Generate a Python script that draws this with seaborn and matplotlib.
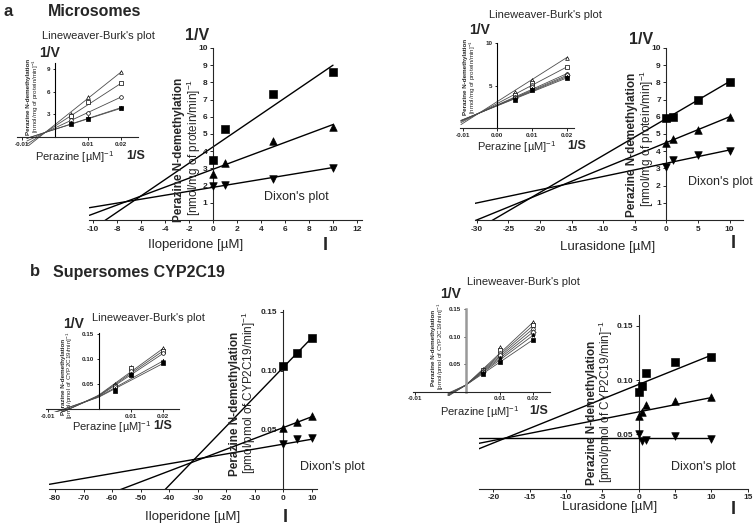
import numpy as np
import pandas as pd
import matplotlib
matplotlib.use("Agg")
import matplotlib.pyplot as plt
import seaborn as sns

sns.set_style("ticks")
plt.rcParams['font.family'] = ['Liberation Sans', 'DejaVu Sans']
plt.rcParams['mathtext.default'] = 'regular'

W, H = 754, 525

# ---- Dixon plots (1/V vs inhibitor) ----
ilo_mic_x = [0, 1, 5, 10]
ilo_mic_sq = [3.5, 5.3, 7.3, 8.6]
ilo_mic_up = [2.7, 3.3, 4.6, 5.4]
ilo_mic_dn = [1.95, 2.05, 2.4, 3.0]
ilo_mic_int = [4.25, 2.95, 1.9]
ilo_mic_slope = [0.475, 0.26, 0.115]

lur_mic_x = [0, 1, 5, 10]
lur_mic_sq = [5.95, 6.0, 7.0, 8.05]
lur_mic_up = [4.45, 4.7, 5.25, 6.0]
lur_mic_dn = [3.1, 3.5, 3.8, 4.0]
lur_mic_int = [5.9, 4.5, 3.3]
lur_mic_slope = [0.215, 0.15, 0.077]

ilo_sup_x = [0, 5, 10]
ilo_sup_sq = [0.104, 0.115, 0.128]
ilo_sup_up = [0.052, 0.057, 0.062]
ilo_sup_dn = [0.038, 0.042, 0.043]
ilo_sup_int = [0.103, 0.052, 0.038]
ilo_sup_slope = [0.0025, 0.00092, 0.000415]

lur_sup_x = [0, 0.5, 1, 5, 10]
lur_sup_sq = [0.089, 0.095, 0.107, 0.117, 0.121]
lur_sup_up = [0.067, 0.071, 0.077, 0.081, 0.084]
lur_sup_dn = [0.050, 0.044, 0.045, 0.048, 0.046]
lur_sup_int = [0.096, 0.0707, 0.0465]
lur_sup_slope = [0.0027, 0.00132, 0.0]

# ---- Lineweaver-Burk insets (1/V vs 1/S) ----
lb_x = [0.005, 0.01, 0.02]

lb_a1_vals = [[3.1, 5.3, 8.6], [2.8, 4.7, 7.1], [2.25, 3.2, 5.3],
              [1.9, 2.5, 3.9], [1.7, 2.45, 3.8]]
lb_a1_int = [1.64, 1.45, 1.21, 1.03, 1.02]
lb_a1_slope = [348, 283, 204, 143, 139]

lb_a2_vals = [[4.2, 5.7, 8.3], [3.9, 5.3, 7.2], [3.6, 5.1, 6.4],
              [3.5, 4.8, 6.2], [3.4, 4.6, 6.05], [3.3, 4.5, 5.9]]
lb_a2_int = [3.12, 2.89, 2.72, 2.68, 2.65, 2.62]
lb_a2_slope = [259, 215, 184, 176, 170, 164]

lb_b1_vals = [[0.050, 0.085, 0.122], [0.047, 0.082, 0.117], [0.044, 0.077, 0.112],
              [0.040, 0.070, 0.097], [0.037, 0.068, 0.092]]
lb_b1_int = [0.028, 0.027, 0.026, 0.025, 0.024]
lb_b1_slope = [4.7, 4.5, 4.3, 3.6, 3.4]

lb_b2_vals = [[0.041, 0.082, 0.127], [0.039, 0.076, 0.121], [0.038, 0.071, 0.115],
              [0.036, 0.067, 0.109], [0.035, 0.061, 0.103], [0.033, 0.055, 0.095]]
lb_b2_int = [0.012, 0.012, 0.012, 0.012, 0.012, 0.012]
lb_b2_slope = [5.75, 5.45, 5.15, 4.85, 4.55, 4.15]

fig = plt.figure(figsize=(W / 100, H / 100), dpi=100)


def rect(l, r, top, bottom):
    return [l / W, 1 - bottom / H, (r - l) / W, (bottom - top) / H]


def txt(x, y, s, **kw):
    kw.setdefault('ha', 'center')
    kw.setdefault('va', 'center')
    fig.text(x / W, 1 - y / H, s, **kw)


def style_axes(ax, tsize):
    for side in ['top', 'right']:
        ax.spines[side].set_visible(False)
    ax.spines['left'].set_position(('data', 0))
    ax.spines['bottom'].set_position(('data', 0))
    for side in ['left', 'bottom']:
        ax.spines[side].set_linewidth(0.8)
    ax.tick_params(length=2.5, width=0.7, labelsize=tsize, pad=1.5)
    for lab in ax.get_xticklabels() + ax.get_yticklabels():
        lab.set_fontweight('bold')
    ax.patch.set_alpha(0)


def dixon(pos, xs, sq, up, dn, ints, slopes, xlim, ylim, xticks, yticks, ylabfmt):
    ax = fig.add_axes(rect(*pos))
    xl = np.array([xlim[0], 10])
    for b, s in zip(ints, slopes):
        sns.lineplot(x=xl, y=b + s * xl, color='k', lw=1, ax=ax)
    for vals, m in [(sq, 's'), (up, '^'), (dn, 'v')]:
        sns.scatterplot(x=xs, y=vals, marker=m, color='k', s=30,
                        edgecolor='k', ax=ax, zorder=3, clip_on=False)
    ax.set_xlim(xlim)
    ax.set_ylim(ylim)
    ax.set_xticks(xticks)
    ax.set_yticks(yticks)
    ax.set_yticklabels([ylabfmt.format(v) for v in yticks])
    ax.set_xticklabels([str(v) for v in xticks])
    ax.set_xlabel('')
    ax.set_ylabel('')
    style_axes(ax, 6)
    return ax


dixon((89.4, 361.8, 48, 220), ilo_mic_x, ilo_mic_sq, ilo_mic_up, ilo_mic_dn,
      ilo_mic_int, ilo_mic_slope, (-10.3, 12.4), (0, 10),
      list(range(-10, 13, 2)), list(range(1, 11)), '{:d}')
dixon((474.8, 742.8, 48, 220), lur_mic_x, lur_mic_sq, lur_mic_up, lur_mic_dn,
      lur_mic_int, lur_mic_slope, (-30.3, 12.1), (0, 10),
      list(range(-30, 11, 5)), list(range(1, 11)), '{:d}')
dixon((49.3, 317.4, 309.6, 489), ilo_sup_x, ilo_sup_sq, ilo_sup_up, ilo_sup_dn,
      ilo_sup_int, ilo_sup_slope, (-82, 12), (0, 0.152),
      list(range(-80, 11, 10)), [0.05, 0.10, 0.15], '{:.2f}')
dixon((478.8, 747.7, 315.1, 488.5), lur_sup_x, lur_sup_sq, lur_sup_up, lur_sup_dn,
      lur_sup_int, lur_sup_slope, (-22, 15), (0, 0.16),
      list(range(-20, 16, 5)), [0.05, 0.10, 0.15], '{:.2f}')


def lb_inset(pos, vals, ints, slopes, xlim, ylim, xleft, xticks, xtl, yticks, ytl,
             k=1.0, ycol='k', ylw=0.8):
    ax = fig.add_axes(rect(*pos))
    if k != 1.0:
        fwd = lambda x: np.where(np.asarray(x) < 0, np.asarray(x) * k, x)
        inv = lambda x: np.where(np.asarray(x) < 0, np.asarray(x) / k, x)
        ax.set_xscale('function', functions=(fwd, inv))
    xl = np.linspace(xleft, 0.02, 40)
    for b, s in zip(ints, slopes):
        ax.plot(xl, b + s * xl, color='0.3', lw=0.6)
    markers = ['^', 's', 'o', 'D', '*', 's']
    if len(vals) == 5:
        markers = ['^', 's', 'o', '*', 's']
    for i, v in enumerate(vals):
        m = markers[i]
        filled = (i == len(vals) - 1) or m == '*'
        ax.scatter(lb_x, v, marker=m, s=7 if m != '*' else 10,
                   facecolor='k' if filled else 'white', edgecolor='k',
                   linewidth=0.5, zorder=3)
    ax.set_xlim(xlim)
    ax.set_ylim(ylim)
    ax.set_xticks(xticks)
    ax.set_xticklabels(xtl)
    ax.set_yticks(yticks)
    ax.set_yticklabels(ytl)
    style_axes(ax, 4.5)
    ax.tick_params(length=1.8)
    ax.spines['left'].set_bounds(0, ylim[1])
    ax.spines['left'].set_color(ycol)
    ax.spines['left'].set_linewidth(ylw)
    return ax


lb_inset((17, 137.5, 63, 146.1), lb_a1_vals, lb_a1_int, lb_a1_slope,
         (-0.0115, 0.025), (-1.2, 9.8), -0.0085,
         [-0.01, 0.01, 0.02], ['-0.01', '0.01', '0.02'], [3, 6, 9], ['3', '6', '9'])
lb_inset((460.2, 573.6, 43.2, 129.7), lb_a2_vals, lb_a2_int, lb_a2_slope,
         (-0.0107, 0.022), (-0.2, 10), -0.0105,
         [-0.01, 0.0, 0.01, 0.02], ['-0.01', '0.00', '0.01', '0.02'],
         [5, 10], ['5', '10'])
lb_inset((45.8, 179.5, 333.3, 412.3), lb_b1_vals, lb_b1_int, lb_b1_slope,
         (-0.0105, 0.025), (-0.006, 0.152), -0.0095,
         [-0.01, 0.01, 0.02], ['-0.01', '0.01', '0.02'],
         [0.05, 0.10, 0.15], ['0.05', '0.10', '0.15'], k=1.55)
lb_inset((412.5, 550.2, 309.3, 396.2), lb_b2_vals, lb_b2_int, lb_b2_slope,
         (-0.0105, 0.025), (-0.008, 0.15), -0.0035,
         [-0.01, 0.01, 0.02], ['-0.01', '0.01', '0.02'],
         [0.05, 0.10, 0.15], ['0.05', '0.10', '0.15'], k=1.5, ycol='0.6', ylw=1.8)

# ---- texts ----
txt(4, 12, 'a', fontsize=12, fontweight='bold', ha='left')
txt(48, 12, 'Microsomes', fontsize=11.5, fontweight='bold', ha='left')
txt(30, 272, 'b', fontsize=12, fontweight='bold', ha='left')
txt(53, 272, 'Supersomes CYP2C19', fontsize=11.5, fontweight='bold', ha='left')

for x, y in [(98, 36), (545, 15), (148, 318), (523, 282)]:
    txt(x, y, "Lineweaver-Burk's plot", fontsize=8)
for x, y in [(296, 197), (720, 182), (332, 467), (703, 467)]:
    txt(x, y, "Dixon's plot", fontsize=9)

for x, y in [(50, 53), (480, 30), (74, 324), (451, 294)]:
    txt(x, y, '1/V', fontsize=10, fontweight='bold')
for x, y in [(197, 35), (641, 40)]:
    txt(x, y, '1/V', fontsize=11.5, fontweight='bold')

for x, y, xs in [(75, 157, 136), (517, 147, 577), (112, 427, 163), (480, 412, 539)]:
    txt(x, y, r'Perazine [µM]$^{-1}$', fontsize=8)
    txt(xs, y - 1, '1/S', fontsize=9, fontweight='bold')

txt(196, 245, 'Iloperidone [µM]', fontsize=9.5)
txt(608, 247, 'Lurasidone [µM]', fontsize=9.5)
txt(193, 517, 'Iloperidone [µM]', fontsize=9.5)
txt(610, 507, 'Lurasidone [µM]', fontsize=9.5)
for x, y in [(325, 245), (733, 243), (285, 517), (733, 509)]:
    txt(x, y, 'I', fontsize=13, fontweight='bold')

mic_unit = r'[nmol/mg of protein/min]$^{-1}$'
sup_unit = r'[pmol/pmol of CYP2C19/min]$^{-1}$'
for xb, yb, xn, yn, unit in [(179, 150, 193.5, 147, mic_unit),
                             (632, 145, 646.5, 138, mic_unit),
                             (235, 404, 249, 393, sup_unit),
                             (591.5, 413, 606, 402, sup_unit)]:
    txt(xb, yb, 'Perazine N-demethylation', fontsize=8.5, fontweight='bold', rotation=90)
    txt(xn, yn, unit, fontsize=8.5, rotation=90)

for xb, yb, xn, yn, unit in [(29, 97, 36, 96, mic_unit),
                             (466, 77, 473, 77, mic_unit),
                             (63, 377, 70, 375, sup_unit),
                             (434, 348, 441, 346, sup_unit)]:
    txt(xb, yb, 'Perazine N-demethylation', fontsize=4.5, fontweight='bold', rotation=90)
    txt(xn, yn, unit, fontsize=4.5, rotation=90)

fig.savefig('out.png', dpi=100)
